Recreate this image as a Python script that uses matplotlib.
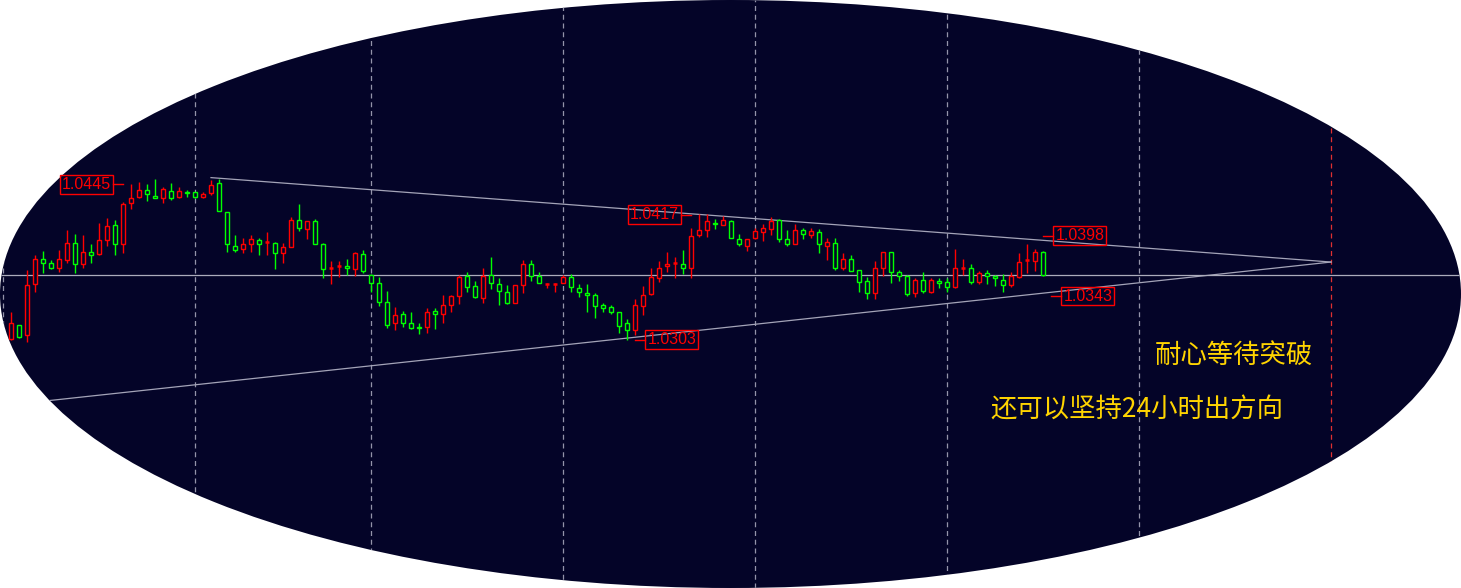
import numpy as np
import matplotlib.pyplot as plt
from matplotlib.patches import Ellipse, Rectangle

# hourly bars, oldest first
opens = [1.0304, 1.0317, 1.0307, 1.0354, 1.0377, 1.0373, 1.0369, 1.0376, 1.0391, 1.0372,
         1.0383, 1.0381, 1.0394, 1.0408, 1.0390, 1.0428, 1.0433, 1.0440, 1.0434, 1.0432,
         1.0439, 1.0433, 1.0438, 1.0438, 1.0433, 1.0437, 1.0446, 1.0420, 1.0389, 1.0386,
         1.0390, 1.0394, 1.0392, 1.0391, 1.0382, 1.0388, 1.0412, 1.0404, 1.0411, 1.0390,
         1.0369, 1.0370, 1.0370, 1.0368, 1.0381, 1.0362, 1.0355, 1.0338, 1.0318, 1.0327,
         1.0318, 1.0315, 1.0315, 1.0329, 1.0327, 1.0335, 1.0343, 1.0361, 1.0352, 1.0341,
         1.0362, 1.0354, 1.0347, 1.0337, 1.0353, 1.0372, 1.0361, 1.0354, 1.0354, 1.0355,
         1.0360, 1.0350, 1.0346, 1.0344, 1.0335, 1.0333, 1.0328, 1.0318, 1.0312, 1.0334,
         1.0345, 1.0359, 1.0370, 1.0373, 1.0372, 1.0369, 1.0399, 1.0403, 1.0410, 1.0408,
         1.0411, 1.0395, 1.0389, 1.0396, 1.0401, 1.0404, 1.0412, 1.0395, 1.0390, 1.0403,
         1.0399, 1.0401, 1.0389, 1.0391, 1.0369, 1.0377, 1.0367, 1.0357, 1.0346, 1.0369,
         1.0383, 1.0365, 1.0361, 1.0346, 1.0358, 1.0347, 1.0357, 1.0356, 1.0351, 1.0369,
         1.0369, 1.0356, 1.0364, 1.0361, 1.0358, 1.0353, 1.0360, 1.0376, 1.0375, 1.0383]
highs = [1.0328, 1.0317, 1.0367, 1.0380, 1.0384, 1.0376, 1.0385, 1.0403, 1.0400, 1.0399,
         1.0390, 1.0410, 1.0414, 1.0412, 1.0429, 1.0445, 1.0447, 1.0445, 1.0450, 1.0442,
         1.0446, 1.0442, 1.0440, 1.0438, 1.0438, 1.0449, 1.0450, 1.0420, 1.0399, 1.0396,
         1.0399, 1.0396, 1.0401, 1.0392, 1.0391, 1.0415, 1.0427, 1.0411, 1.0413, 1.0391,
         1.0375, 1.0375, 1.0377, 1.0383, 1.0385, 1.0363, 1.0360, 1.0348, 1.0333, 1.0329,
         1.0328, 1.0318, 1.0332, 1.0332, 1.0344, 1.0344, 1.0362, 1.0365, 1.0357, 1.0369,
         1.0379, 1.0359, 1.0353, 1.0353, 1.0376, 1.0376, 1.0365, 1.0355, 1.0355, 1.0362,
         1.0363, 1.0354, 1.0354, 1.0346, 1.0337, 1.0335, 1.0328, 1.0322, 1.0340, 1.0352,
         1.0369, 1.0375, 1.0383, 1.0379, 1.0385, 1.0405, 1.0418, 1.0418, 1.0413, 1.0416,
         1.0412, 1.0400, 1.0395, 1.0405, 1.0409, 1.0415, 1.0413, 1.0403, 1.0409, 1.0405,
         1.0405, 1.0404, 1.0396, 1.0396, 1.0382, 1.0380, 1.0367, 1.0360, 1.0375, 1.0383,
         1.0383, 1.0367, 1.0362, 1.0359, 1.0365, 1.0359, 1.0359, 1.0359, 1.0386, 1.0377,
         1.0372, 1.0366, 1.0367, 1.0362, 1.0363, 1.0365, 1.0382, 1.0390, 1.0386, 1.0384]
lows = [1.0303, 1.0305, 1.0301, 1.0347, 1.0364, 1.0368, 1.0365, 1.0373, 1.0364, 1.0369,
        1.0373, 1.0380, 1.0389, 1.0380, 1.0382, 1.0422, 1.0432, 1.0430, 1.0432, 1.0428,
        1.0431, 1.0432, 1.0433, 1.0432, 1.0432, 1.0435, 1.0421, 1.0383, 1.0383, 1.0382,
        1.0383, 1.0380, 1.0380, 1.0368, 1.0373, 1.0388, 1.0402, 1.0395, 1.0390, 1.0359,
        1.0354, 1.0360, 1.0362, 1.0361, 1.0364, 1.0347, 1.0334, 1.0314, 1.0312, 1.0315,
        1.0313, 1.0308, 1.0309, 1.0313, 1.0318, 1.0328, 1.0336, 1.0347, 1.0341, 1.0337,
        1.0349, 1.0335, 1.0336, 1.0337, 1.0346, 1.0357, 1.0355, 1.0350, 1.0347, 1.0355,
        1.0347, 1.0342, 1.0328, 1.0323, 1.0328, 1.0327, 1.0309, 1.0303, 1.0307, 1.0326,
        1.0344, 1.0356, 1.0365, 1.0359, 1.0363, 1.0359, 1.0397, 1.0397, 1.0404, 1.0408,
        1.0396, 1.0389, 1.0384, 1.0395, 1.0393, 1.0399, 1.0392, 1.0389, 1.0390, 1.0395,
        1.0396, 1.0382, 1.0376, 1.0367, 1.0367, 1.0366, 1.0347, 1.0340, 1.0340, 1.0361,
        1.0355, 1.0357, 1.0343, 1.0342, 1.0346, 1.0346, 1.0350, 1.0347, 1.0350, 1.0362,
        1.0354, 1.0354, 1.0354, 1.0352, 1.0347, 1.0351, 1.0359, 1.0364, 1.0366, 1.0361]
closes = [1.0318, 1.0306, 1.0353, 1.0377, 1.0373, 1.0369, 1.0377, 1.0391, 1.0372, 1.0383,
          1.0380, 1.0394, 1.0407, 1.0390, 1.0427, 1.0432, 1.0440, 1.0436, 1.0432, 1.0441,
          1.0432, 1.0439, 1.0437, 1.0433, 1.0436, 1.0444, 1.0421, 1.0390, 1.0385, 1.0390,
          1.0395, 1.0390, 1.0392, 1.0382, 1.0388, 1.0412, 1.0405, 1.0411, 1.0390, 1.0368,
          1.0369, 1.0370, 1.0369, 1.0382, 1.0366, 1.0355, 1.0338, 1.0317, 1.0326, 1.0318,
          1.0314, 1.0314, 1.0328, 1.0327, 1.0335, 1.0343, 1.0360, 1.0351, 1.0342, 1.0361,
          1.0355, 1.0348, 1.0337, 1.0353, 1.0372, 1.0361, 1.0355, 1.0354, 1.0354, 1.0360,
          1.0351, 1.0347, 1.0344, 1.0334, 1.0332, 1.0328, 1.0316, 1.0312, 1.0335, 1.0344,
          1.0360, 1.0369, 1.0372, 1.0373, 1.0369, 1.0398, 1.0403, 1.0411, 1.0409, 1.0412,
          1.0396, 1.0390, 1.0395, 1.0402, 1.0405, 1.0411, 1.0395, 1.0390, 1.0403, 1.0400,
          1.0402, 1.0390, 1.0392, 1.0369, 1.0377, 1.0366, 1.0356, 1.0346, 1.0369, 1.0383,
          1.0365, 1.0361, 1.0345, 1.0358, 1.0348, 1.0358, 1.0355, 1.0351, 1.0369, 1.0369,
          1.0356, 1.0364, 1.0361, 1.0359, 1.0353, 1.0361, 1.0374, 1.0376, 1.0383, 1.0362]

# period separators (bar index) and the red marker in the future area
day_breaks = [-1, 23, 45, 69, 93, 117, 141]
marker_bar = 165

# triangle trendlines (bar index, price)
upper_bars = [25, 165]
upper_prices = [1.0451, 1.0374]
lower_bars = [-10, 165]
lower_prices = [1.0236, 1.0374]

# price labels
level_prices = [1.0445, 1.0417, 1.0398, 1.0343, 1.0303]
level_bars = [14, 85, 129, 130, 78]
level_sides = ['left', 'left', 'right', 'right', 'right']

note1 = '耐心等待突破'
note2 = '还可以坚持24小时出方向'

W, H = 1461, 588
bg = '#040428'

fig = plt.figure(figsize=(W / 100, H / 100), dpi=100, facecolor='white')
ax = fig.add_axes([0, 0, 1, 1])
ax.set_axis_off()
ax.set_xlim(-1.375, 181.25)
ax.set_ylim(1.00767, 1.0613)

oval = Ellipse((0.5, 0.5), 1, 1, transform=ax.transAxes,
               facecolor=bg, edgecolor='none', zorder=0)
ax.add_patch(oval)

dash = (0, (4, 3))
for b in day_breaks:
    ax.axvline(b, color='#9494aa', lw=0.9, linestyle=dash, zorder=1)
ax.axvline(marker_bar, color='#e03030', lw=0.9, linestyle=dash, zorder=1)

ax.plot(upper_bars, upper_prices, color='#a4a4b8', lw=0.9, zorder=2)
ax.plot(lower_bars, lower_prices, color='#a4a4b8', lw=0.9, zorder=2)
ax.axhline(closes[-1], color='#acacbc', lw=0.9, zorder=2)

x = np.arange(len(closes))
o = np.array(opens)
h = np.array(highs)
l = np.array(lows)
c = np.array(closes)
cols = np.where(c >= o, '#ff0000', '#00ff00')

ax.vlines(x, l, h, colors=cols, lw=1.0, zorder=3)
for xi, oi, ci, col in zip(x, o, c, cols):
    if oi == ci:
        ax.hlines(oi, xi - 0.3, xi + 0.3, colors=col, lw=1.8, zorder=4)
    else:
        ax.add_patch(Rectangle((xi - 0.25, min(oi, ci)), 0.5, abs(ci - oi),
                               facecolor=bg, edgecolor=col, lw=1.0, zorder=4))

for p, b, side in zip(level_prices, level_bars, level_sides):
    d = -1.3 if side == 'left' else 1.3
    ax.plot([b, b + d], [p, p], color='#ff0000', lw=1.0, zorder=5)
    ax.annotate(f'{p:.4f}', xy=(b + d, p),
                xytext=(-2 if side == 'left' else 2, 0), textcoords='offset pixels',
                ha='right' if side == 'left' else 'left', va='center',
                color='#ff0000', fontsize=11.5, family='Liberation Sans',
                bbox=dict(boxstyle='square,pad=0.12', fc='none', ec='#ff0000', lw=1.0),
                zorder=5)

cjk = ['Noto Sans CJK SC', 'DejaVu Sans']
ax.text(1155 / W, 1 - 355 / H, note1, transform=ax.transAxes, color='#ffd400',
        fontsize=19, family=cjk, weight='medium', ha='left', va='center', zorder=6)
ax.text(990 / W, 1 - 410 / H, note2, transform=ax.transAxes, color='#ffd400',
        fontsize=19, family=cjk, weight='medium', ha='left', va='center', zorder=6)

for art in ax.lines + ax.collections + ax.patches:
    if art is not oval:
        art.set_clip_path(oval)

fig.savefig('out.png', dpi=100, facecolor='white')
